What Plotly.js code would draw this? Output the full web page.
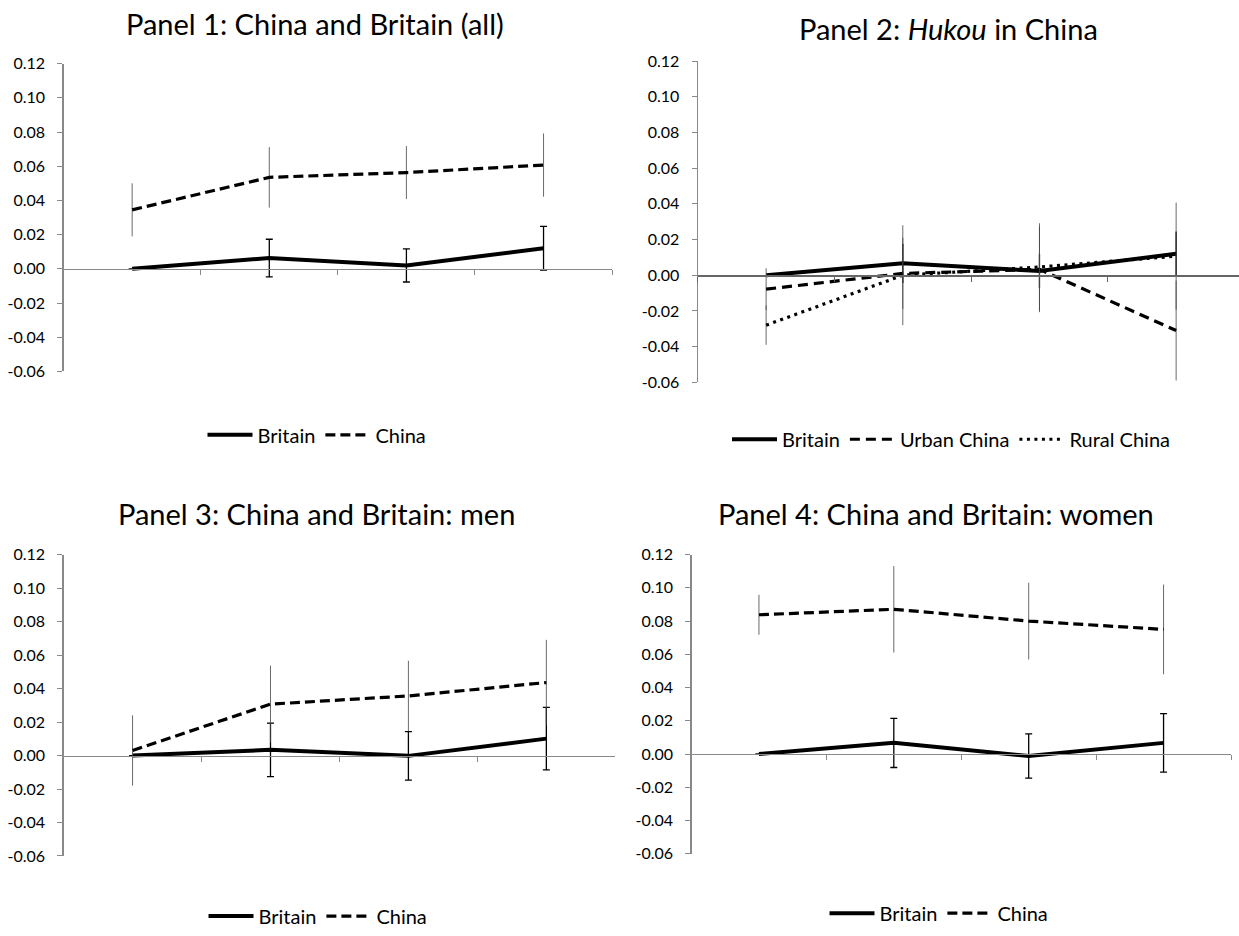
<!DOCTYPE html>
<html>
<head>
<meta charset="utf-8">
<script src="https://cdn.plot.ly/plotly-3.0.1.min.js"></script>
<style>html,body{margin:0;padding:0;background:#fff;overflow:hidden;}#chart{width:1239px;height:936px;}</style>
</head>
<body>
<div id="chart"></div>
<script>
// ---- data ----
const categories = ['39-50', '51-60', '61-76', '77-85'];
const panelTitles = [
  'Panel 1: China and Britain (all)',
  'Panel 2: <i>Hukou</i> in China',
  'Panel 3: China and Britain: men',
  'Panel 4: China and Britain: women'
];
const yTicks = [-0.06, -0.04, -0.02, 0.00, 0.02, 0.04, 0.06, 0.08, 0.10, 0.12];
const yTickText = yTicks.map(v => v.toFixed(2));

// Panel 1
const britain1 = [0.0000, 0.0063, 0.0020, 0.0120];
const britain1Err = [0, 0.0110, 0.0097, 0.0128];
const china1 = [0.0345, 0.0535, 0.0563, 0.0607];
const china1Err = [0.0155, 0.0177, 0.0155, 0.0185];
// Panel 2
const britain2 = [0.0000, 0.0067, 0.0024, 0.0120];
const britain2Err = [0, 0.0110, 0.0095, 0.0125];
const urban2 = [-0.0078, 0.0010, 0.0033, -0.0310];
const urban2Err = [0.0117, 0.0200, 0.0240, 0.0280];
const rural2 = [-0.0280, 0.0000, 0.0046, 0.0107];
const rural2Err = [0.0110, 0.0280, 0.0245, 0.0300];
// Panel 3
const britain3 = [0.0000, 0.0034, -0.0002, 0.0101];
const britain3Err = [0, 0.0160, 0.0145, 0.0187];
const china3 = [0.0030, 0.0307, 0.0356, 0.0436];
const china3Err = [0.0210, 0.0230, 0.0210, 0.0255];
// Panel 4
const britain4 = [0.0000, 0.0067, -0.0012, 0.0067];
const britain4Err = [0, 0.0148, 0.0133, 0.0176];
const china4 = [0.0838, 0.0871, 0.0800, 0.0750];
const china4Err = [0.0120, 0.0260, 0.0231, 0.0270];

// ---- styling ----
const W = 1239, H = 936;
const FONT = 'Lato, "Open Sans", sans-serif';
const AXIS_COLOR = '#898989';

function britainTrace(y, err, n, capW) {
  return {
    type: 'scatter', mode: 'lines', name: 'Britain',
    x: categories, y: y, xaxis: 'x' + (n === 1 ? '' : n), yaxis: 'y' + (n === 1 ? '' : n),
    line: {color: '#000', width: 4},
    error_y: {type: 'data', array: err, visible: true, color: '#000', thickness: 1.3, width: capW},
    legend: n === 1 ? 'legend' : 'legend' + n, hoverinfo: 'skip'
  };
}
function dashedTrace(name, y, err, n, dash) {
  return {
    type: 'scatter', mode: 'lines', name: name,
    x: categories, y: y, xaxis: 'x' + (n === 1 ? '' : n), yaxis: 'y' + (n === 1 ? '' : n),
    line: {color: '#000', width: 3.2, dash: dash},
    error_y: {type: 'data', array: err, visible: true, color: '#444', thickness: 0.8, width: 0},
    legend: n === 1 ? 'legend' : 'legend' + n, hoverinfo: 'skip'
  };
}

const traces = [
  britainTrace(britain1, britain1Err, 1, 3.5),
  dashedTrace('China', china1, china1Err, 1, '10px,5px'),
  britainTrace(britain2, britain2Err, 2, 0),
  dashedTrace('Urban China', urban2, urban2Err, 2, '10px,6px'),
  dashedTrace('Rural China', rural2, rural2Err, 2, '3px,4.5px'),
  britainTrace(britain3, britain3Err, 3, 3.5),
  dashedTrace('China', china3, china3Err, 3, '10px,5px'),
  britainTrace(britain4, britain4Err, 4, 3.5),
  dashedTrace('China', china4, china4Err, 4, '10px,5px')
];

// panel geometry in pixels: plot left/right, y of 0.12 (top) and -0.06 (bottom),
// title centre, legend centre
const panels = [
  {l: 63.6, r: 612.1, top: 64.3, bot: 375.0, xr: [-0.5, 3.5], title: [315, 24], leg: [317, 439], zc: AXIS_COLOR, zw: 1.3},
  {l: 697.8, r: 1239, top: 61.7, bot: 386.0, xr: [-0.5, 3.46], title: [948, 29], leg: [951, 443.5], zc: '#666', zw: 1.8},
  {l: 63.6, r: 615.3, top: 560.0, bot: 864.3, xr: [-0.5, 3.5], title: [316, 518.5], leg: [318, 925], zc: AXIS_COLOR, zw: 1.3},
  {l: 691.5, r: 1231.0, top: 560.0, bot: 862.0, xr: [-0.5, 3.5], title: [936, 518.5], leg: [939, 922], zc: AXIS_COLOR, zw: 1.3}
];
const yRange = [-0.06, 0.12];
const fx = px => px / W;
const fy = px => 1 - px / H;

const layout = {
  width: W, height: H,
  margin: {l: 0, r: 0, t: 0, b: 0},
  paper_bgcolor: '#fff', plot_bgcolor: 'rgba(0,0,0,0)',
  font: {family: FONT, color: '#000'},
  annotations: [],
  hovermode: false
};

panels.forEach((p, i) => {
  const n = i + 1;
  const sx = n === 1 ? '' : String(n);
  const yd = [fy(p.bot), fy(p.top)];
  const xd = [fx(p.l), fx(p.r)];
  const zeroPos = yd[0] + (0 - yRange[0]) / (yRange[1] - yRange[0]) * (yd[1] - yd[0]);
  // data axis drawn at y = 0
  layout['xaxis' + sx] = {
    type: 'category', categoryorder: 'array', categoryarray: categories,
    domain: xd, range: p.xr, anchor: 'free', position: zeroPos,
    showline: true, linecolor: p.zc, linewidth: p.zw,
    ticks: 'outside', tickson: 'boundaries', ticklen: 5, tickcolor: p.zc, tickwidth: 1,
    showticklabels: false, showgrid: false, zeroline: false, fixedrange: true
  };
  // label-only axis at the bottom
  layout['xaxis' + (n + 4)] = {
    type: 'linear', overlaying: 'x' + sx, anchor: 'y' + sx,
    range: p.xr, tickmode: 'array',
    tickvals: categories.map((c, k) => k), ticktext: categories,
    showline: false, ticks: '', showgrid: false, zeroline: false,
    tickfont: {family: FONT, size: 16, color: '#000'}, ticklabelstandoff: 5, fixedrange: true
  };
  layout['yaxis' + sx] = {
    domain: yd, range: yRange, anchor: 'x' + sx,
    tickmode: 'array', tickvals: yTicks, ticktext: yTickText,
    showline: true, linecolor: AXIS_COLOR, linewidth: 1.3,
    ticks: 'outside', ticklen: 5, tickcolor: AXIS_COLOR,
    showgrid: false, zeroline: false,
    tickfont: {family: FONT, size: 16, color: '#000'}, ticklabelstandoff: 9, fixedrange: true
  };
  layout[n === 1 ? 'legend' : 'legend' + n] = {
    orientation: 'h', x: fx(p.leg[0]), y: fy(p.leg[1]), xanchor: 'center', yanchor: 'middle',
    font: {family: FONT, size: 20, color: '#000'}, bgcolor: 'rgba(0,0,0,0)',
    itemwidth: 45, tracegroupgap: 0
  };
  layout.annotations.push({
    text: panelTitles[i], xref: 'paper', yref: 'paper', x: fx(p.title[0]), y: fy(p.title[1]),
    xanchor: 'center', yanchor: 'middle', showarrow: false,
    font: {family: FONT, size: 29, color: '#000'}
  });
});

Plotly.newPlot('chart', traces, layout, {displayModeBar: false, staticPlot: true});
</script>
</body>
</html>
